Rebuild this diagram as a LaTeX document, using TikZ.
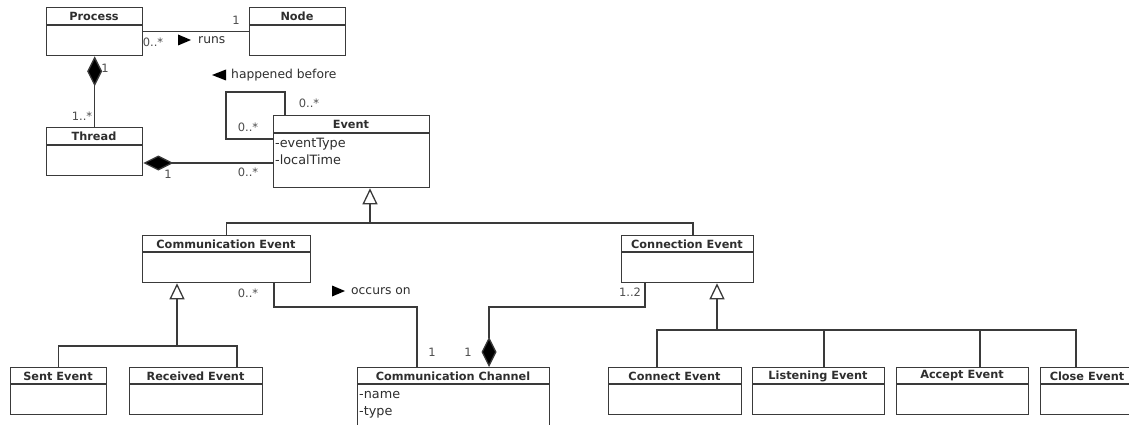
\documentclass[tikz,border=0pt]{standalone}
\usepackage{fontspec}
\setmainfont{DejaVu Sans}
\usetikzlibrary{arrows.meta,calc}

\definecolor{umlline}{HTML}{3A3A3A}
\definecolor{umltext}{HTML}{2E2E2E}

\tikzset{
  classbox/.style={draw=umlline, line width=1.3pt, rectangle, inner sep=0pt, anchor=north west},
  classtitle/.style={font=\fontsize{11.3}{13}\selectfont\bfseries, text=umltext, inner sep=0pt, anchor=center},
  attr/.style={font=\fontsize{12.8}{14}\selectfont, text=umltext, inner sep=0pt, anchor=west},
  mult/.style={font=\fontsize{11.5}{13}\selectfont, text=umltext!85, inner sep=0pt, anchor=center},
  rolename/.style={font=\fontsize{12.3}{14}\selectfont, text=umltext, inner sep=0pt, anchor=west},
  conn/.style={draw=umlline, line width=1.3pt},
  comp/.style={conn, -{Diamond[length=30pt,width=15pt,fill=black]}},
  gen/.style={conn, -{Triangle[open,length=16pt,width=15pt,fill=white]}},
  dirmark/.style={fill=black, draw=none},
}

% class box: name, x1, y1, x2, y2, header line y, title
\newcommand\umlclass[7]{%
  \node[classbox, minimum width={(#4-#2)*1pt}, minimum height={(#5-#3)*1pt}] (#1) at (#2,#3) {};
  \draw[conn] (#1.west |- 0,#6) -- (#1.east |- 0,#6);
  \node[classtitle] (#1-title) at ({(#2+#4)/2},{(#3+#6)/2+0.5}) {#7};
}

\begin{document}
\begin{tikzpicture}[x=1pt, y=-1pt]
  \fill[white] (0,0) rectangle (1129,425);
  \useasboundingbox (0,0) rectangle (1129,425);

  % classes
  \umlclass{process}{46}{7}{142}{55}{25}{Process}
  \umlclass{node}{249}{7}{345}{55}{25}{Node}
  \umlclass{thread}{46}{127}{142}{175}{145}{Thread}
  \umlclass{event}{273}{115}{429}{187}{133}{Event}
  \umlclass{commev}{142}{235}{310}{282}{252}{Communication Event}
  \umlclass{connev}{621}{235}{753}{282}{252}{Connection Event}
  \umlclass{sent}{10}{367}{106}{414}{384}{Sent Event}
  \umlclass{received}{129}{367}{262}{414}{384}{Received Event}
  \umlclass{channel}{357}{367}{549}{445}{384}{Communication Channel}
  \umlclass{connect}{608}{367}{741}{414}{384}{Connect Event}
  \umlclass{listening}{752}{367}{884}{414}{384}{Listening Event}
  \umlclass{accept}{896}{367}{1028}{414}{384}{Accept Event}
  \umlclass{close}{1040}{367}{1134}{414}{384}{Close Event}

  % attributes
  \node[attr] (evtype) at (275,144) {-eventType};
  \node[attr] (evtime) at (275,160) {-localTime};
  \node[attr] (chname) at (359,395) {-name};
  \node[attr] (chtype) at (359,412) {-type};

  % Process runs on Node
  \draw[conn] (process.east) -- (node.west);
  \node[mult] (m-pn0) at (153,42) {0..*};
  \node[mult] (m-pn1) at (236,20) {1};
  \node[rolename] (runs) at (198,40) {runs};
  \fill[dirmark] (178,34.5) -- (191,40) -- (178,45.5) -- cycle;

  % Process owns Threads
  \draw[comp] (thread.north) -- (process.south);
  \node[mult] (m-pt1) at (105,68) {1};
  \node[mult] (m-pt2) at (82,116) {1..*};

  % Thread owns Events
  \coordinate (te) at (0,163);
  \draw[comp] (event.west |- te) -- (thread.east |- te);
  \node[mult] (m-te1) at (168,174) {1};
  \node[mult] (m-te2) at (248,172) {0..*};

  % happened-before self association
  \coordinate (loopA) at (285,92);
  \coordinate (loopB) at (226,139);
  \draw[conn] (event.north -| loopA) -- (loopA) -- (loopB |- loopA) -- (loopB) -- (event.west |- loopB);
  \node[mult] (m-hb1) at (309,103) {0..*};
  \node[mult] (m-hb2) at (248,127) {0..*};
  \node[rolename] (hb) at (231,75) {happened before};
  \fill[dirmark] (212,75) -- (226,69.5) -- (226,80.5) -- cycle;

  % Event generalisation
  \coordinate (genE) at (370,223);
  \coordinate (cjoin) at (693,223);
  \draw[conn] (commev.north) |- (genE);
  \draw[conn] (connev.north -| cjoin) -- (cjoin) -- (genE);
  \draw[gen] (genE) -- (event.south -| genE);

  % Communication Event generalisation
  \coordinate (gC) at (177,346);
  \coordinate (gR) at (237,346);
  \draw[conn] (sent.north) |- (gC);
  \draw[conn] (received.north -| gR) -- (gR) -- (gC);
  \draw[gen] (gC) -- (commev.south -| gC);

  % occurs on
  \coordinate (occA) at (274,307);
  \coordinate (occB) at (417,307);
  \draw[conn] (commev.south -| occA) -- (occA) -- (occB) -- (channel.north -| occB);
  \node[mult] (m-oc1) at (248,293) {0..*};
  \node[mult] (m-oc2) at (432,352) {1};
  \node[rolename] (occurs) at (351,291) {occurs on};
  \fill[dirmark] (332,285.5) -- (345,291) -- (332,296.5) -- cycle;

  % Channel owns Connection Events
  \coordinate (cmpA) at (645,307);
  \coordinate (cmpB) at (489,307);
  \draw[comp] (connev.south -| cmpA) -- (cmpA) -- (cmpB) -- (channel.north -| cmpB);
  \node[mult] (m-ce1) at (630,292) {1..2};
  \node[mult] (m-ce2) at (468,352) {1};

  % Connection Event generalisation
  \coordinate (gK) at (717,330);
  \coordinate (k1) at (657,330);
  \coordinate (k2) at (824,330);
  \coordinate (k3) at (980,330);
  \coordinate (k4) at (1076,330);
  \draw[conn] (connect.north -| k1) -- (k1) -- (k4) -- (close.north -| k4);
  \draw[conn] (listening.north -| k2) -- (k2);
  \draw[conn] (accept.north -| k3) -- (k3);
  \draw[gen] (gK) -- (connev.south -| gK);
\end{tikzpicture}
\end{document}
